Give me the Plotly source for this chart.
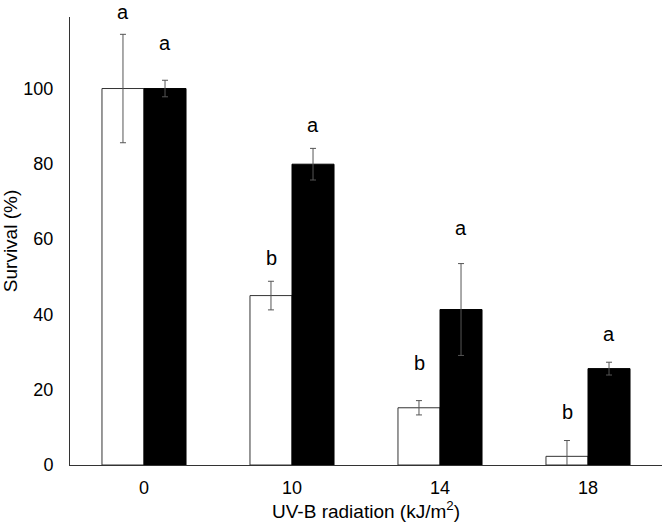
import plotly.graph_objects as go

categories = ["0", "10", "14", "18"]
white_vals = [100, 45, 15.2, 2.3]
white_err = [14.4, 3.8, 1.9, 4.2]
black_vals = [100, 79.9, 41.3, 25.6]
black_err = [2.2, 4.2, 12.2, 1.7]
white_letters = ["a", "b", "b", "b"]
white_letter_y = [120.3, 55, 27.1, 14.1]
black_letters = ["a", "a", "a", "a"]
black_letter_y = [112.2, 90.4, 63, 34.8]
y_ticks = [0, 20, 40, 60, 80, 100]
y_max = 119

FONT = "Liberation Sans, Arial, sans-serif"

fig = go.Figure()
fig.add_trace(go.Bar(
    x=categories, y=white_vals, name="white",
    marker=dict(color="white", line=dict(color="#333333", width=1)),
    error_y=dict(type="data", array=white_err, color="#555555", thickness=1, width=3),
    cliponaxis=False,
))
fig.add_trace(go.Bar(
    x=categories, y=black_vals, name="black",
    marker=dict(color="black", line=dict(color="black", width=1)),
    error_y=dict(type="data", array=black_err, color="#555555", thickness=1, width=3),
    cliponaxis=False,
))

annotations = []
for shift, letters, ys in ((-21, white_letters, white_letter_y), (21, black_letters, black_letter_y)):
    for i, (t, yv) in enumerate(zip(letters, ys)):
        annotations.append(dict(x=i, y=yv / y_max, xref="x", yref="paper", text=t,
                                showarrow=False, xshift=shift, xanchor="center", yanchor="middle",
                                font=dict(family=FONT, size=20, color="black")))

fig.update_layout(
    width=662, height=522,
    margin=dict(l=70, r=0, t=17, b=57),
    barmode="group", bargap=0.432, bargroupgap=0,
    plot_bgcolor="white", paper_bgcolor="white",
    showlegend=False,
    font=dict(family=FONT, size=18, color="black"),
    annotations=annotations,
    xaxis=dict(
        type="category", range=[-0.5, len(categories) - 0.5],
        showline=True, linecolor="#333333", linewidth=1,
        ticks="", showgrid=False, zeroline=False,
        tickfont=dict(size=18), ticklabelstandoff=6,
        title=dict(text="UV-B radiation (kJ/m<sup>2</sup>)", font=dict(size=19), standoff=2),
    ),
    yaxis=dict(
        range=[0, y_max], tickvals=y_ticks,
        showline=True, linecolor="#333333", linewidth=1,
        ticks="", showgrid=False, zeroline=False,
        tickfont=dict(size=18), ticklabelstandoff=12,
        title=dict(text="Survival (%)", font=dict(size=19), standoff=8),
    ),
)

fig.write_html("out.html")
